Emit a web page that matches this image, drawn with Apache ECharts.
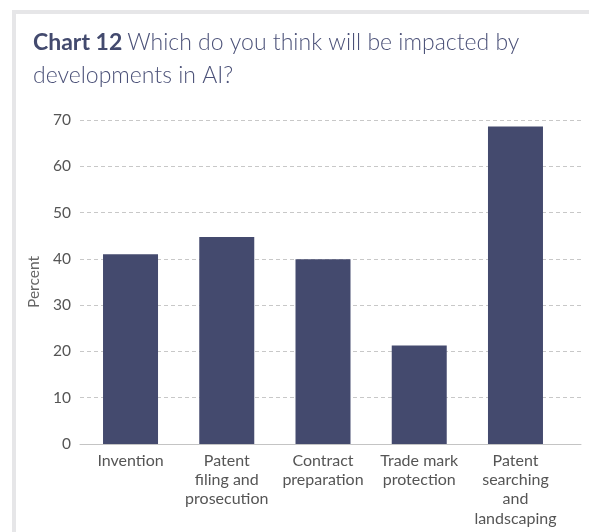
<!DOCTYPE html>
<html>
<head>
<meta charset="utf-8">
<script src="https://cdn.jsdelivr.net/npm/echarts@6/dist/echarts.min.js"></script>
<style>
  html, body { margin: 0; padding: 0; background: #ffffff; }
  #chart { width: 589px; height: 532px; }
</style>
</head>
<body>
<div id="chart"></div>
<script>
// Survey answers: share of respondents (%) per area
const categories = [
  'Invention',
  'Patent\nfiling and\nprosecution',
  'Contract\npreparation',
  'Trade mark\nprotection',
  'Patent\nsearching\nand\nlandscaping'
];
const percentValues = [41.0, 44.7, 39.9, 21.3, 68.6];
const yTicks = [0, 10, 20, 30, 40, 50, 60, 70];

const FONT = 'Lato, "Noto Sans", sans-serif';
const BAR_COLOR = '#444a6e';
const yMin = yTicks[0];
const yMax = yTicks[yTicks.length - 1];
const yStep = yTicks[1] - yTicks[0];

const chart = echarts.init(document.getElementById('chart'), null, { renderer: 'canvas' });

chart.setOption({
  animation: false,
  backgroundColor: '#ffffff',
  graphic: [
    // panel frame (top and left edges)
    { type: 'rect', left: 12, top: 10, shape: { width: 600, height: 4 }, style: { fill: '#e6e6e8' }, silent: true },
    { type: 'rect', left: 12, top: 10, shape: { width: 4, height: 540 }, style: { fill: '#e6e6e8' }, silent: true }
  ],
  title: {
    left: 28,
    top: 21,
    text: '{b|Chart 12} {n|Which do you think will be impacted by}\n{n|developments in AI?}',
    textStyle: {
      rich: {
        b: { fontFamily: FONT, fontSize: 23, fontWeight: 'bold', color: '#434a6e', lineHeight: 33 },
        n: { fontFamily: FONT, fontSize: 23, fontWeight: 300, color: '#4b5178', lineHeight: 33 }
      }
    }
  },
  grid: [
    // grid 0: bars and category labels
    { left: 82.4, right: 25.4, top: 120, bottom: 88 },
    // grid 1: gridlines, baseline and value labels across the full width
    { left: 80, right: 8, top: 120, bottom: 88 }
  ],
  xAxis: [
    {
      gridIndex: 0,
      type: 'category',
      data: categories,
      boundaryGap: true,
      axisLine: { show: false },
      axisTick: { show: false },
      axisLabel: {
        interval: 0,
        margin: 7,
        fontFamily: FONT,
        fontSize: 16,
        lineHeight: 19.3,
        color: '#555555'
      }
    },
    {
      gridIndex: 1,
      type: 'value',
      min: 0,
      max: 1,
      axisLine: { show: true, lineStyle: { color: '#c4c4c4', width: 1 } },
      axisTick: { show: false },
      axisLabel: { show: false },
      splitLine: { show: false }
    }
  ],
  yAxis: [
    {
      gridIndex: 0,
      type: 'value',
      min: yMin,
      max: yMax,
      interval: yStep,
      show: false
    },
    {
      gridIndex: 1,
      type: 'value',
      min: yMin,
      max: yMax,
      interval: yStep,
      name: 'Percent',
      nameLocation: 'middle',
      nameGap: 36,
      nameTextStyle: { fontFamily: FONT, fontSize: 15.5, color: '#666666' },
      axisLine: { show: false },
      axisTick: { show: false },
      axisLabel: {
        margin: 9,
        fontFamily: FONT,
        fontSize: 15.5,
        color: '#555555'
      },
      splitLine: {
        show: true,
        lineStyle: { color: '#c8c8c8', type: [4, 3], width: 1 }
      }
    }
  ],
  series: [
    {
      type: 'bar',
      xAxisIndex: 0,
      yAxisIndex: 0,
      data: percentValues,
      barWidth: 55,
      itemStyle: { color: BAR_COLOR },
      z: 3
    }
  ]
});
</script>
</body>
</html>
